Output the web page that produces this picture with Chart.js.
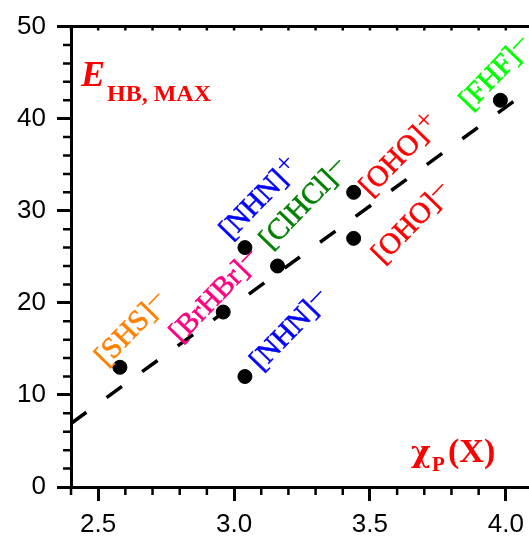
<!doctype html>
<html lang="en">
<head>
  <meta charset="UTF-8">
  <title>E_HB,MAX vs chi_P</title>
  <script src="https://cdn.jsdelivr.net/npm/chart.js"></script>
  <style>
    html, body {
      margin: 0;
      padding: 0;
      overflow: hidden;
      background: #fff;
    }

    #wrap {
      width: 545px;
      height: 536px;
    }
  </style>
</head>
<body>
  <div id="wrap"><canvas id="chart_01" width="545" height="536"></canvas></div>
  <script type="application/javascript">
    // measured points (Pauling electronegativity vs max H-bond energy)
    const chiP = [2.58, 2.96, 3.04, 3.04, 3.16, 3.44, 3.44, 3.98]
    const eHB = [13, 19, 26, 12, 24, 32, 27, 42]

    // dashed trend line at both ends
    const fitX = [2.4, 4.1]
    const fitY = [6.9, 43.4]

    // tick labels
    const xMajor = [2.5, 3.0, 3.5, 4.0]
    const yMajor = [0, 10, 20, 30, 40, 50]

    // system names next to the points (centre of each label, data units)
    const sysName = ['[SHS]', '[BrHBr]', '[NHN]', '[ClHCl]', '[OHO]', '[OHO]', '[NHN]', '[FHF]']
    const sysCharge = ['–', '–', '+', '–', '+', '–', '–', '–']
    const sysColor = ['#ff8000', '#ff0080', '#0000ff', '#008000', '#ff0000', '#ff0000', '#0000ff', '#00ff00']
    const sysX = [2.617, 2.925, 3.09, 3.252, 3.605, 3.648, 3.2, 3.958]
    const sysY = [17.2, 20.8, 31.4, 30.8, 36.1, 28.7, 17.1, 45.0]

    const near = (a, b) => Math.abs(a - b) < 1e-6
    const isMajorX = v => xMajor.some(m => near(m, v))
    const isMajorY = v => yMajor.some(m => near(m, v))

    const range = (a, b, step) => {
      const out = []
      for (let i = 0; a + i * step <= b + 1e-9; i++) out.push(+(a + i * step).toFixed(3))
      return out
    }

    const frame_plugin = {
      id: 'frame',
      afterDraw(chart) {
        const {ctx, chartArea: a, scales: {x, y}} = chart
        ctx.save()
        ctx.strokeStyle = '#000'
        ctx.lineWidth = 2.5
        ctx.beginPath()
        x.ticks.forEach(t => {
          const px = x.getPixelForValue(t.value)
          if (!isMajorX(t.value)) {
            ctx.moveTo(px, a.bottom)
            ctx.lineTo(px, a.bottom + 8)
          }
          ctx.moveTo(px, a.top)
          ctx.lineTo(px, a.top + 4)
        })
        y.ticks.forEach(t => {
          if (isMajorY(t.value)) return
          const py = y.getPixelForValue(t.value)
          ctx.moveTo(a.left - 8, py)
          ctx.lineTo(a.left, py)
        })
        ctx.stroke()

        ctx.lineWidth = 3
        ctx.beginPath()
        ctx.moveTo(a.left - 1.5, a.top)
        ctx.lineTo(a.right, a.top)
        ctx.stroke()

        // system labels, rotated, centred on their anchor
        const fs = 29.5
        sysName.forEach((name, i) => {
          ctx.save()
          ctx.translate(x.getPixelForValue(sysX[i]), y.getPixelForValue(sysY[i]))
          ctx.rotate(-46 * Math.PI / 180)
          ctx.fillStyle = sysColor[i]
          ctx.strokeStyle = sysColor[i]
          ctx.lineWidth = 0.6
          ctx.font = fs + 'px "Liberation Serif"'
          ctx.textBaseline = 'alphabetic'
          const wn = ctx.measureText(name).width
          const wc = ctx.measureText(sysCharge[i]).width
          const x0 = -(wn + wc) / 2
          const base = fs * 0.33
          ctx.fillText(name, x0, base)
          ctx.strokeText(name, x0, base)
          ctx.fillText(sysCharge[i], x0 + wn + 1, base - 6)
          ctx.restore()
        })

        // axis titles inside the frame
        ctx.fillStyle = '#ff0000'
        ctx.textBaseline = 'alphabetic'
        ctx.font = 'italic bold 36px "Liberation Serif"'
        ctx.fillText('E', a.left + 10, a.top + 59)
        ctx.font = 'bold 24px "Liberation Serif"'
        ctx.fillText('HB, MAX', a.left + 36, a.top + 74)

        ctx.font = 'bold 30px "DejaVu Serif"'
        ctx.fillText('χ', a.left + 340, a.bottom - 25)
        ctx.font = 'bold 21px "Liberation Serif"'
        ctx.fillText('P', a.left + 361, a.bottom - 16)
        ctx.font = 'bold 34px "Liberation Serif"'
        ctx.fillText('(X)', a.left + 377, a.bottom - 25)
        ctx.restore()
      }
    }

    const config = {
      type: 'scatter',
      data: {
        datasets: [{
          label: 'points',
          data: chiP.map((v, i) => ({x: v, y: eHB[i]})),
          backgroundColor: '#000',
          borderColor: '#000',
          pointRadius: 7,
          pointHoverRadius: 7
        }, {
          label: 'fit',
          data: fitX.map((v, i) => ({x: v, y: fitY[i]})),
          showLine: true,
          borderColor: '#000',
          borderWidth: 3.5,
          borderDash: [19, 25],
          pointRadius: 0,
          fill: false
        }]
      },
      options: {
        responsive: false,
        animation: false,
        layout: {
          padding: {top: 25, right: 12, left: 0, bottom: 0}
        },
        plugins: {
          legend: {display: false},
          tooltip: {enabled: false}
        },
        scales: {
          x: {
            type: 'linear',
            min: 2.4,
            max: 4.1,
            afterBuildTicks: s => { s.ticks = range(2.4, 4.1, 0.1).map(v => ({value: v})) },
            afterFit: s => { s.height = 49 },
            border: {display: true, color: '#000', width: 3},
            grid: {
              drawOnChartArea: false,
              drawTicks: true,
              tickLength: 14,
              tickWidth: 3,
              tickColor: c => (c.tick && isMajorX(c.tick.value)) ? '#000' : 'rgba(0,0,0,0)'
            },
            ticks: {
              autoSkip: false,
              maxRotation: 0,
              padding: 8,
              color: '#000',
              font: {family: '"Liberation Sans"', size: 26},
              callback: v => isMajorX(v) ? v.toFixed(1) : ''
            }
          },
          y: {
            type: 'linear',
            min: 0,
            max: 50,
            afterBuildTicks: s => { s.ticks = range(0, 50, 2).map(v => ({value: v})) },
            afterFit: s => { s.width = 71 },
            border: {display: true, color: '#000', width: 3},
            grid: {
              drawOnChartArea: false,
              drawTicks: true,
              tickLength: 14,
              tickWidth: 3,
              tickColor: c => (c.tick && isMajorY(c.tick.value)) ? '#000' : 'rgba(0,0,0,0)'
            },
            ticks: {
              autoSkip: false,
              padding: 11,
              color: '#000',
              font: {family: '"Liberation Sans"', size: 26},
              callback: v => isMajorY(v) ? String(v) : ''
            }
          }
        }
      },
      plugins: [frame_plugin]
    }

    const myChart = new Chart(
      document.getElementById('chart_01'),
      config
    )
  </script>
</body>
</html>
